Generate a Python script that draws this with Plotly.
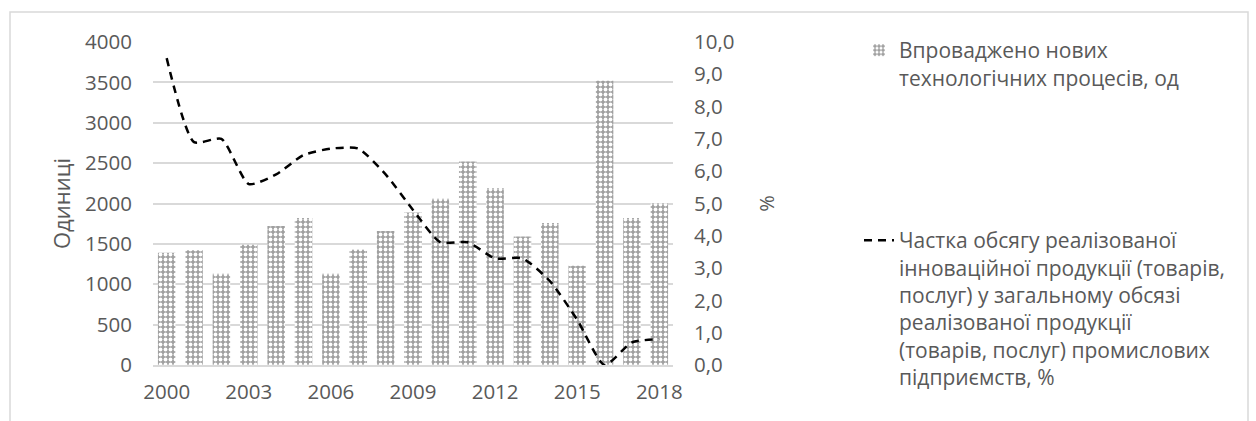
import plotly.graph_objects as go

years = [str(y) for y in range(2000, 2019)]
processes = [1390, 1420, 1130, 1490, 1720, 1820, 1130, 1430, 1660, 1890, 2060, 2520, 2190, 1590, 1760, 1230, 3520, 1820, 2000]
share = [9.5, 6.9, 7.0, 5.6, 5.9, 6.5, 6.7, 6.7, 5.9, 4.8, 3.8, 3.8, 3.3, 3.3, 2.6, 1.4, 0.0, 0.7, 0.8]
tick_years = ["2000", "2003", "2006", "2009", "2012", "2015", "2018"]

name_bar = "Впроваджено нових<br>технологічних процесів, од"
name_line = ("Частка обсягу реалізованої<br>інноваційної продукції (товарів,<br>"
             "послуг) у загальному обсязі<br>реалізованої продукції<br>"
             "(товарів, послуг) промислових<br>підприємств, %")

FONT = "Open Sans"
GREY = "#595959"

fig = go.Figure()
fig.add_trace(go.Bar(
    x=years, y=processes, name=name_bar, yaxis="y", legend="legend", showlegend=True,
    marker=dict(color="#a0a0a0", line=dict(width=0),
                pattern=dict(shape=".", bgcolor="#a0a0a0", fgcolor="#ffffff",
                             size=5, solidity=0.45, fillmode="replace")),
    width=0.64,
))
fig.add_trace(go.Scatter(
    x=years, y=share, name=name_line, yaxis="y2", legend="legend2", showlegend=True,
    mode="lines", line=dict(color="black", width=2.5, dash="8px,6px", shape="spline", smoothing=0.6),
))

fig.update_layout(
    width=1256, height=421,
    margin=dict(l=153, r=583, t=42, b=56),
    paper_bgcolor="white", plot_bgcolor="white",
    font=dict(family=FONT, color=GREY, size=20),
    separators=", ",
    showlegend=True,
    bargap=0.36,
    xaxis=dict(type="category", tickmode="array", tickvals=tick_years, ticktext=tick_years,
               showgrid=False, showline=True, linecolor="#d9d9d9", linewidth=1.5,
               ticks="", ticklabelstandoff=8, tickfont=dict(size=20.5, color=GREY)),
    yaxis=dict(range=[0, 4000], dtick=500, showgrid=True, gridcolor="#d9d9d9", gridwidth=1.5,
               zeroline=False, ticks="", ticklabelstandoff=20,
               tickfont=dict(size=20.5, color=GREY),
               title=dict(text="Одиниці", font=dict(size=22, color=GREY), standoff=8)),
    yaxis2=dict(range=[0, 10], dtick=1, overlaying="y", side="right", showgrid=False,
                zeroline=False, ticks="", ticklabelstandoff=20, tickformat=".1f",
                tickfont=dict(size=20.5, color=GREY),
                title=dict(text="%", font=dict(size=20, color=GREY), standoff=26)),
    legend=dict(x=(859 - 153) / 520, y=(365 - 30) / 323, xanchor="left", yanchor="top",
                valign="top", font=dict(size=21, color=GREY), bgcolor="rgba(0,0,0,0)"),
    legend2=dict(x=(859 - 153) / 520, y=(365 - 220) / 323, xanchor="left", yanchor="top",
                 valign="top", font=dict(size=21, color=GREY), bgcolor="rgba(0,0,0,0)"),
    shapes=[dict(type="rect", xref="paper", yref="paper",
                 x0=(10 - 153) / 520, x1=(1248 - 153) / 520,
                 y0=(365 - 440) / 323, y1=(365 - 12) / 323,
                 line=dict(color="#d9d9d9", width=1.5), fillcolor="rgba(0,0,0,0)", layer="below")],
)

fig.write_html("out.html")
